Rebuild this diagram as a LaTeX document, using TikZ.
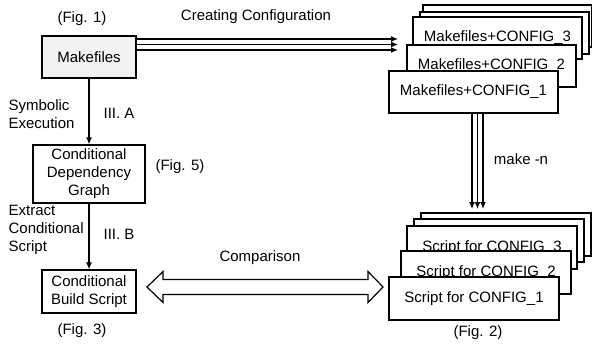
\documentclass[tikz,border=0pt]{standalone}
\usepackage{fontspec}
\setmainfont{Liberation Sans}
\usetikzlibrary{calc,arrows.meta}

\begin{document}
\begin{tikzpicture}[x=0.5pt, y=-0.5pt, >={Latex[length=3.5pt,width=3pt]}, line width=0.6pt,
    font=\fontsize{7.5}{9}\selectfont,
    lbl/.style={inner sep=0pt},
    box/.style={draw, line width=0.7pt, fill=white, align=center, inner sep=0pt},
    cfgbox/.style={box, minimum width=84.5pt, minimum height=21pt},
    scrbox/.style={box, minimum width=85pt, minimum height=21.5pt}]
    \useasboundingbox (0,0) rectangle (592,348);
    % left column
    \node[box, fill=gray!10, minimum width=47pt, minimum height=21pt] (mk) at (89,57) {Makefiles};
    \node[box, minimum width=56pt, minimum height=29pt] (cdg) at (89,174) {Conditional\\Dependency\\Graph};
    \node[box, minimum width=47pt, minimum height=21.5pt] (cbs) at (89,291.5) {Conditional\\Build Script};
    \draw[->] (mk) -- (cdg);
    \draw[->] (cdg) -- (cbs);
    \node[lbl, anchor=west, align=left] (symlbl) at (8,114) {Symbolic\\Execution};
    \node[lbl, anchor=west] (iiia) at (103,113) {III. A};
    \node[lbl, anchor=west, align=left] (extlbl) at (8,230) {Extract\\Conditional\\Script};
    \node[lbl, anchor=west] (iiib) at (103,234) {III. B};
    \node[lbl] (fig1) at (82,19) {(Fig. 1)};
    \node[lbl] (fig5) at (180,167) {(Fig. 5)};
    \node[lbl] (fig3) at (82,331) {(Fig. 3)};
    % stacks on the right
    \foreach \n/\x/\y/\t in {5/507.5/26/{}, 4/504.5/33/{}, 3/497.5/38/{Makefiles+CONFIG\_3},
                             2/491.5/66/{Makefiles+CONFIG\_2}, 1/473.5/92/{Makefiles+CONFIG\_1}}
        \node[cfgbox] (cfg\n) at (\x,\y) {\t};
    \foreach \n/\x/\y/\t in {5/506/234.5/{}, 4/499/240.5/{}, 3/492/247.5/{Script for CONFIG\_3},
                             2/486/272.5/{Script for CONFIG\_2}, 1/474/298.5/{Script for CONFIG\_1}}
        \node[scrbox] (scr\n) at (\x,\y) {\t};
    \node[lbl] (fig2) at (478,333) {(Fig. 2)};
    % creating configuration
    \coordinate (cfgin) at (398,44.5);
    \foreach \d in {-5.5,0,5.5}
        \draw[->] ($(mk.east |- cfgin)+(0,\d)$) -- ($(cfgin)+(0,\d)$);
    \node[lbl] (cfglbl) at (256,17) {Creating Configuration};
    % make -n
    \coordinate (scrin) at (477.5,209);
    \foreach \d in {-5.5,0,5.5}
        \draw[->] ($(cfg1.south -| scrin)+(\d,0)$) -- ($(scrin)+(\d,0)$);
    \node[lbl] (mklbl) at (521,159) {make -n};
    % comparison
    \coordinate (cmpL) at (147,287);
    \coordinate (cmpR) at (383,287);
    \draw[fill=white] (cmpL) -- ++(16,-15.5) -- ++(0,8) -- ($(cmpR)+(-15,-7.5)$) -- ++(0,-8)
        -- (cmpR) -- ++(-15,15.5) -- ++(0,-8) -- ($(cmpL)+(16,7.5)$) -- ++(0,8) -- cycle;
    \node[lbl] (cmplbl) at (260,258) {Comparison};
\end{tikzpicture}
\end{document}
